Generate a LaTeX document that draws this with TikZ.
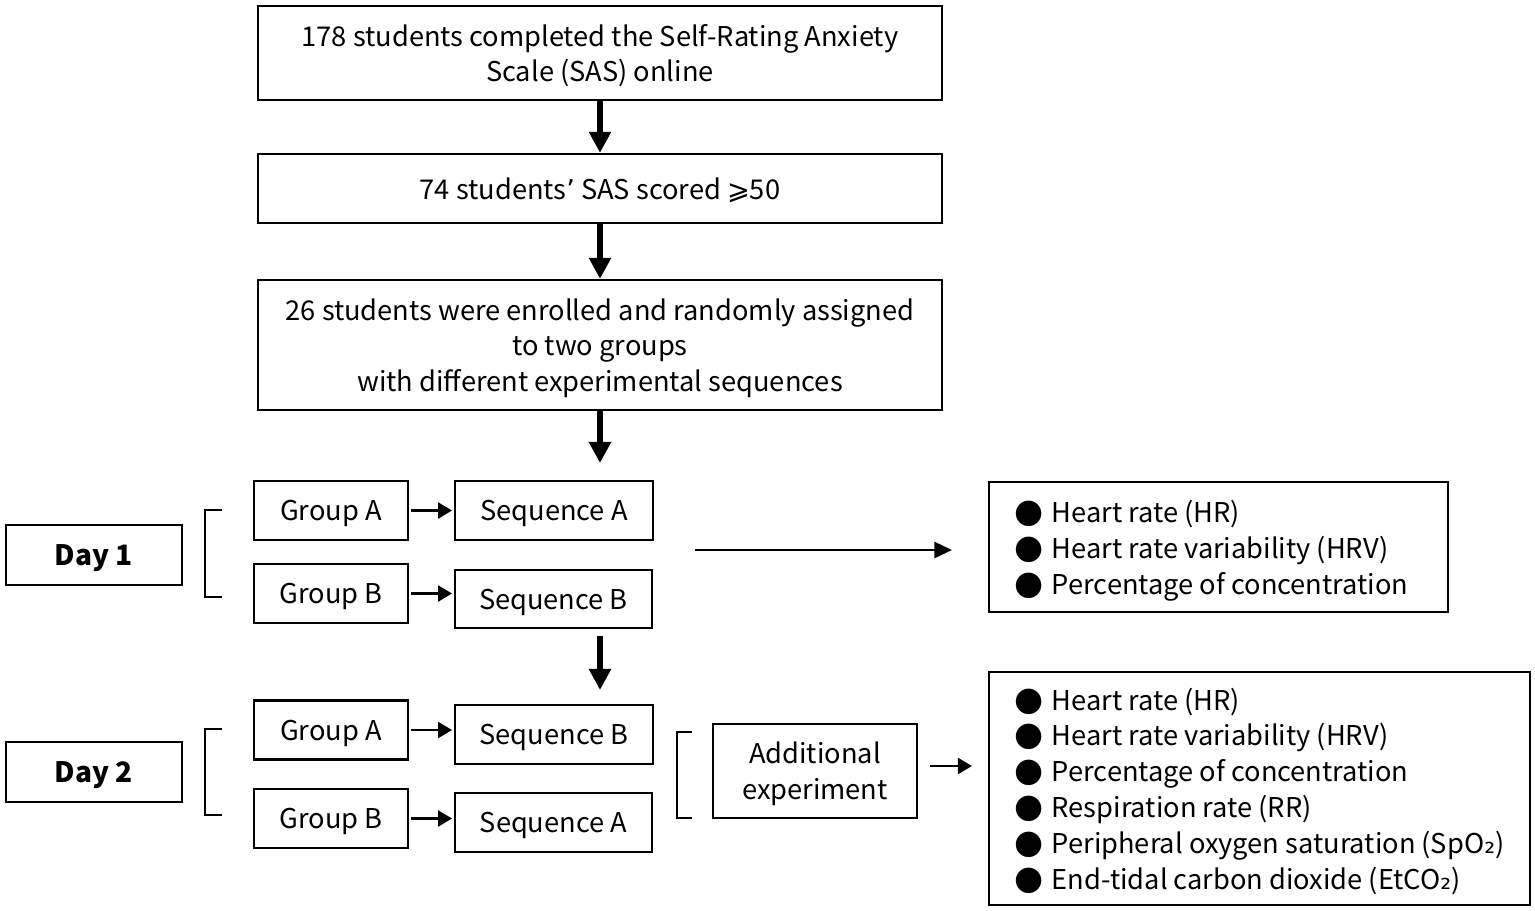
\documentclass[tikz,border=0pt]{standalone}
\usepackage{fontspec}
\setmainfont{Noto Sans CJK SC}
\newfontfamily\dejavu{DejaVu Sans}
\usetikzlibrary{arrows.meta}
\newcommand{\bul}{{\dejavu\fontsize{19}{19}\selectfont ●}\hspace{0.3em}}
\newcommand{\subtwo}{{\dejavu ₂}}
\begin{document}
\begin{tikzpicture}[
  box/.style={draw, line width=1.3pt, inner sep=0pt, align=center, text depth=0pt,
    font=\fontsize{15.5}{20.4}\selectfont},
  daybox/.style={box, font=\fontsize{16}{20}\selectfont\bfseries},
  listbox/.style={draw, line width=1.3pt, inner ysep=0pt, inner xsep=0pt, align=left, text depth=0pt,
    font=\fontsize{15.5}{20.4}\selectfont},
  bigarrow/.style={line width=3pt, -{Triangle[width=12pt,length=12pt]}},
  smallarrow/.style={line width=1.6pt, -{Triangle[width=9pt,length=8pt]}},
  bracket/.style={line width=1.1pt}
]
\useasboundingbox (0,0) rectangle (30.7,-18.2);

\node[box, minimum width=13.68cm, minimum height=1.88cm] (b1) at (12.0,-1.06)
  {178 students completed the Self-Rating Anxiety\\Scale (SAS) online};
\node[box, minimum width=13.68cm, minimum height=1.38cm] (b2) at (12.0,-3.77)
  {74 students{\dejavu ’} SAS scored {\dejavu ⩾}50};
\node[box, minimum width=13.68cm, minimum height=2.6cm] (b3) at (12.0,-6.9)
  {26 students were enrolled and randomly assigned\\to two groups\\with different experimental sequences};

\draw[bigarrow] (b1.south) -- (b2.north);
\draw[bigarrow] (b2.south) -- (b3.north);
\coordinate (a3end) at (12.0,-9.26);
\draw[bigarrow] (b3.south) -- (a3end);

% Day 1
\node[daybox, minimum width=3.52cm, minimum height=1.2cm] (d1) at (1.88,-11.1) {Day 1};
\draw[bracket] (4.44,-10.2) -- (4.1,-10.2) -- (4.1,-11.94) -- (4.44,-11.94);
\node[box, minimum width=3.08cm, minimum height=1.18cm] (g1a) at (6.62,-10.21) {Group A};
\node[box, minimum width=3.08cm, minimum height=1.18cm] (g1b) at (6.62,-11.87) {Group B};
\node[box, minimum width=3.96cm, minimum height=1.18cm] (s1a) at (11.08,-10.21) {Sequence A};
\node[box, minimum width=3.94cm, minimum height=1.16cm] (s1b) at (11.07,-11.98) {Sequence B};
\draw[smallarrow, shorten <=1pt, shorten >=1pt] (g1a.east) -- (s1a.west);
\draw[smallarrow, shorten <=1pt, shorten >=1pt] (g1b.east) -- (s1b.west |- g1b.east);

\coordinate (l1s) at (13.9,-11.0);
\coordinate (l1e) at (19.04,-11.0);
\draw[smallarrow, -{Triangle[width=9pt,length=10pt]}] (l1s) -- (l1e);

\node[listbox, minimum width=9.18cm, minimum height=2.6cm] (r1) at (24.37,-10.94)
  {\bul Heart rate (HR)\\\bul Heart rate variability (HRV)\\\bul Percentage of concentration\hspace*{0.28cm}};

\coordinate (a4s) at (12.0,-12.72);
\coordinate (a4e) at (12.0,-13.8);
\draw[bigarrow] (a4s) -- (a4e);

% Day 2
\node[daybox, minimum width=3.52cm, minimum height=1.2cm] (d2) at (1.88,-15.44) {Day 2};
\draw[bracket] (4.44,-14.58) -- (4.1,-14.58) -- (4.1,-16.3) -- (4.44,-16.3);
\node[box, minimum width=3.08cm, minimum height=1.18cm] (g2a) at (6.62,-14.6) {Group A};
\node[box, minimum width=3.08cm, minimum height=1.18cm] (g2b) at (6.62,-16.37) {Group B};
\node[box, minimum width=3.96cm, minimum height=1.18cm] (s2b) at (11.08,-14.69) {Sequence B};
\node[box, minimum width=3.94cm, minimum height=1.18cm] (s2a) at (11.07,-16.45) {Sequence A};
\draw[smallarrow, shorten <=1pt, shorten >=1pt] (g2a.east) -- (s2b.west |- g2a.east);
\draw[smallarrow, shorten <=1pt, shorten >=1pt] (g2b.east) -- (s2a.west |- g2b.east);

\draw[bracket] (13.84,-14.64) -- (13.54,-14.64) -- (13.54,-16.36) -- (13.84,-16.36);
\node[box, minimum width=4.08cm, minimum height=1.88cm] (add) at (16.3,-15.42) {Additional\\experiment};

\coordinate (a5s) at (18.6,-15.32);
\coordinate (a5e) at (19.44,-15.32);
\draw[smallarrow] (a5s) -- (a5e);

\node[listbox, minimum width=10.82cm, minimum height=4.66cm] (r2) at (25.19,-15.77)
  {\bul Heart rate (HR)\\\bul Heart rate variability (HRV)\\\bul Percentage of concentration\\\bul Respiration rate (RR)\\\bul Peripheral oxygen saturation (SpO\subtwo)\\\bul End-tidal carbon dioxide (EtCO\subtwo)};
\end{tikzpicture}
\end{document}
